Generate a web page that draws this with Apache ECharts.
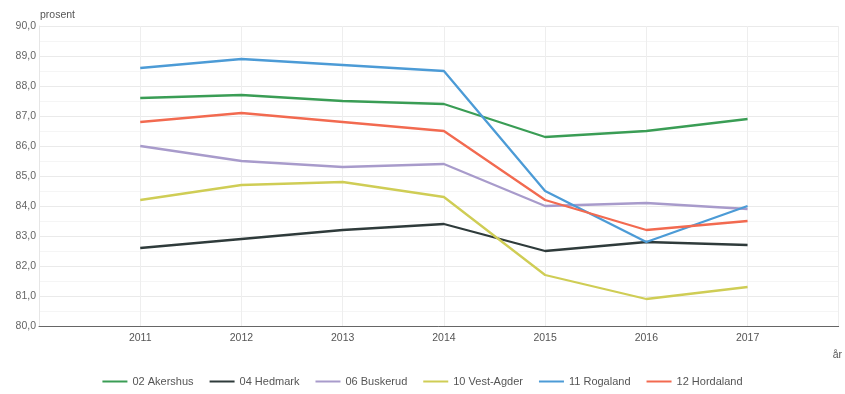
<!DOCTYPE html>
<html><head><meta charset="utf-8">
<script src="https://cdn.jsdelivr.net/npm/echarts@6/dist/echarts.min.js"></script>
<style>html,body{margin:0;padding:0;background:#fff}#c{width:845px;height:394px}</style>
</head><body><div id="c"></div>
<script>
const years = [2011, 2012, 2013, 2014, 2015, 2016, 2017];
const akershus   = [87.6, 87.7, 87.5, 87.4, 86.3, 86.5, 86.9];
const hedmark    = [82.6, 82.9, 83.2, 83.4, 82.5, 82.8, 82.7];
const buskerud   = [86.0, 85.5, 85.3, 85.4, 84.0, 84.1, 83.9];
const vestAgder  = [84.2, 84.7, 84.8, 84.3, 81.7, 80.9, 81.3];
const rogaland   = [88.6, 88.9, 88.7, 88.5, 84.5, 82.8, 84.0];
const hordaland  = [86.8, 87.1, 86.8, 86.5, 84.2, 83.2, 83.5];
const seriesNames = ['02 Akershus', '04 Hedmark', '06 Buskerud', '10 Vest-Agder', '11 Rogaland', '12 Hordaland'];
const seriesData = [akershus, hedmark, buskerud, vestAgder, rogaland, hordaland];
const colors = ['#3a9d55', '#2f3b3b', '#a89bcb', '#cfcd55', '#4c9bd6', '#f26a50'];

const chart = echarts.init(document.getElementById('c'));
chart.setOption({
  animation: false,
  color: colors,
  textStyle: { fontFamily: 'Liberation Sans, Arial, sans-serif' },
  grid: { left: 39, right: 0, top: 26, bottom: 68 },
  legend: {
    bottom: 2, left: 'center', itemWidth: 25, itemHeight: 2, itemGap: 16,
    icon: 'rect',
    textStyle: { fontSize: 11, color: '#555' },
    data: seriesNames
  },
  xAxis: {
    type: 'value', min: 2010, max: 2017.9, interval: 1,
    name: 'år', nameLocation: 'end', nameGap: 0,
    nameTextStyle: { fontSize: 10.5, color: '#555', padding: [24, 0, 0, -6], verticalAlign: 'top', align: 'left' },
    axisLine: { lineStyle: { color: '#666', width: 1 } },
    axisTick: { show: false },
    axisLabel: {
      fontSize: 10.5, color: '#555', margin: 7,
      formatter: v => (v >= 2011 && v <= 2017) ? String(v) : ''
    },
    splitLine: { show: true, lineStyle: { color: '#eeeeee' } }
  },
  yAxis: {
    type: 'value', min: 80, max: 90, interval: 1,
    name: 'prosent', nameLocation: 'end', nameGap: 5,
    nameTextStyle: { fontSize: 10.5, color: '#555', align: 'left', padding: [0, 0, 0, 1] },
    axisLine: { show: true, lineStyle: { color: '#e6e6e6' } },
    axisTick: { show: false },
    axisLabel: { fontSize: 10.5, color: '#666', margin: 3, formatter: v => v.toFixed(1).replace('.', ',') },
    splitLine: { lineStyle: { color: '#eaeaea' } },
    minorTick: { show: false, splitNumber: 2 },
    minorSplitLine: { show: true, lineStyle: { color: '#f5f5f5' } }
  },
  series: seriesNames.map((n, i) => ({
    name: n, type: 'line', showSymbol: false, symbol: 'none',
    lineStyle: { width: 2.3 },
    data: years.map((y, j) => [y, seriesData[i][j]])
  }))
});
</script></body></html>
